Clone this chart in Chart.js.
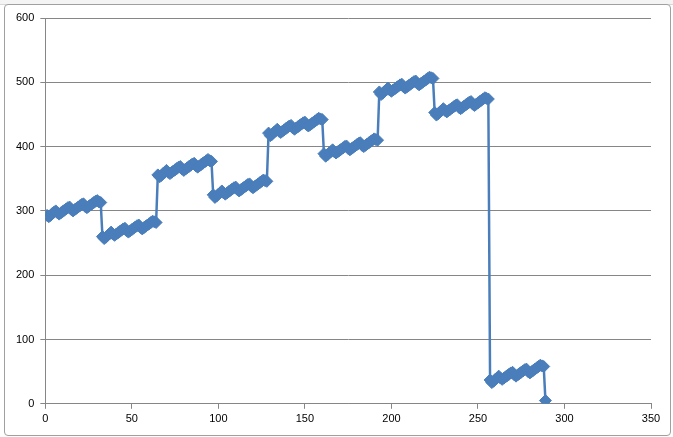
<!DOCTYPE html>
<html>
<head>
<meta charset="utf-8">
<script src="https://cdn.jsdelivr.net/npm/chart.js@4.4.0/dist/chart.umd.min.js"></script>
<style>
  html, body { margin: 0; padding: 0; background: #fff; }
  #wrap { position: relative; width: 673px; height: 437px; overflow: hidden; }
  #sheet { position: absolute; left: 0; top: 0; width: 673px; height: 4px; background: #f4f4f4; border-bottom: 1px solid #d8d8d8; }
  #frame { position: absolute; left: 4px; top: 4px; width: 665px; height: 430px; border: 1px solid #a0a0a0; border-radius: 4px; background: #fff; }
  #chart { position: absolute; left: 0; top: 0; }
</style>
</head>
<body>
<div id="wrap">
  <div id="sheet"></div>
  <div id="frame"></div>
  <canvas id="chart" width="673" height="437"></canvas>
</div>
<script>
// x position where each run of readings starts, one reading per unit
const segStarts = [1, 33, 65, 97, 129, 161, 193, 225, 257, 289];

// readings per run
const seg1 = [293, 291, 293, 296, 298, 300, 297, 295, 297, 299, 301, 303, 305, 306, 302, 300,
              302, 304, 306, 308, 310, 311, 307, 305, 307, 309, 311, 313, 315, 316, 314, 313];
const seg2 = [260, 257, 259, 262, 264, 267, 264, 262, 264, 266, 268, 270, 272, 273, 269, 267,
              269, 271, 273, 275, 277, 278, 274, 272, 274, 276, 278, 280, 282, 284, 283, 282];
const seg3 = [356, 353, 355, 358, 360, 363, 360, 358, 360, 362, 364, 366, 368, 369, 365, 363,
              365, 367, 369, 371, 373, 374, 370, 368, 370, 372, 374, 376, 378, 380, 378, 377];
const seg4 = [325, 321, 323, 326, 328, 331, 328, 326, 328, 330, 332, 334, 336, 337, 333, 331,
              333, 335, 337, 339, 341, 342, 338, 336, 338, 340, 342, 344, 346, 348, 347, 346];
const seg5 = [421, 417, 419, 422, 424, 427, 424, 422, 424, 426, 428, 430, 432, 433, 429, 427,
              429, 431, 433, 435, 437, 438, 434, 432, 434, 436, 438, 440, 442, 444, 443, 442];
const seg6 = [389, 385, 387, 390, 392, 395, 392, 390, 392, 394, 396, 398, 400, 401, 397, 395,
              397, 399, 401, 403, 405, 406, 402, 400, 402, 404, 406, 408, 410, 412, 411, 410];
const seg7 = [485, 481, 483, 486, 488, 491, 488, 486, 488, 490, 492, 494, 496, 497, 493, 491,
              493, 495, 497, 499, 501, 502, 498, 496, 498, 500, 502, 504, 506, 508, 507, 506];
const seg8 = [453, 449, 451, 454, 456, 459, 456, 454, 456, 458, 460, 462, 464, 465, 461, 459,
              461, 463, 465, 467, 469, 470, 466, 464, 466, 468, 470, 472, 474, 476, 475, 474];
const seg9 = [37, 33, 35, 38, 40, 43, 40, 38, 40, 42, 44, 46, 48, 49, 45, 43,
              45, 47, 49, 51, 53, 54, 50, 48, 50, 52, 54, 56, 58, 60, 59, 58];
const seg10 = [5];

const segments = [seg1, seg2, seg3, seg4, seg5, seg6, seg7, seg8, seg9, seg10];

const xTicks = [0, 50, 100, 150, 200, 250, 300, 350];
const yTicks = [0, 100, 200, 300, 400, 500, 600];

const points = [];
segments.forEach(function (seg, s) {
  seg.forEach(function (v, i) {
    points.push({ x: segStarts[s] + i, y: v });
  });
});

const blue = '#4a7ebb';
const axisGray = '#868686';
const tickFont = { family: "'Liberation Sans', Arial, sans-serif", size: 11 };

const config = {
  type: 'scatter',
  data: {
    datasets: [{
      label: 'Series1',
      data: points,
      showLine: true,
      borderColor: blue,
      borderWidth: 2.5,
      backgroundColor: blue,
      pointStyle: 'rectRot',
      pointRadius: 6,
      pointBorderWidth: 1,
      pointBorderColor: blue,
      tension: 0
    }]
  },
  options: {
    responsive: false,
    animation: false,
    layout: { padding: { left: 10, top: 18, right: 22, bottom: 7 } },
    plugins: {
      legend: { display: false },
      tooltip: { enabled: false },
      title: { display: false }
    },
    scales: {
      x: {
        type: 'linear',
        min: 0,
        max: 350,
        afterBuildTicks: function (axis) { axis.ticks = xTicks.map(function (v) { return { value: v }; }); },
        ticks: { color: '#000', font: tickFont, padding: 4, maxRotation: 0 },
        grid: { display: true, drawOnChartArea: false, color: axisGray, tickLength: 5 },
        border: { color: axisGray }
      },
      y: {
        type: 'linear',
        min: 0,
        max: 600,
        afterBuildTicks: function (axis) { axis.ticks = yTicks.map(function (v) { return { value: v }; }); },
        ticks: { color: '#000', font: tickFont, padding: 6 },
        grid: { color: axisGray, tickLength: 5 },
        border: { color: axisGray }
      }
    }
  }
};

const ctx = document.getElementById('chart').getContext('2d');
const myChart = new Chart(ctx, config);
</script>
</body>
</html>
